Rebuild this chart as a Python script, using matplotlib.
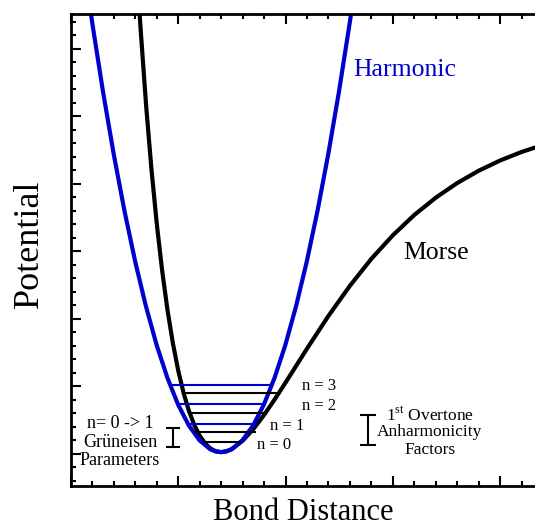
import numpy as np
import matplotlib
matplotlib.use('Agg')
import matplotlib.pyplot as plt
from matplotlib.ticker import MultipleLocator

plt.rcParams['font.family'] = ['Liberation Serif', 'DejaVu Serif']
plt.rcParams['mathtext.fontset'] = 'custom'
plt.rcParams['mathtext.rm'] = 'Liberation Serif'

# Morse potential (bond distance, potential)
morse_x = [0.600, 0.620, 0.650, 0.700, 0.750, 0.800, 0.850, 0.900, 0.950, 1.000, 1.050,
           1.100, 1.150, 1.200, 1.250, 1.300, 1.350, 1.398, 1.450, 1.500, 1.600, 1.700,
           1.800, 1.900, 2.000, 2.200, 2.400, 2.600, 2.800, 3.000, 3.200, 3.400, 3.600,
           3.800, 4.000, 4.200, 4.400, 4.500]
morse_y = [7.530, 7.000, 6.265, 5.161, 4.211, 3.398, 2.706, 2.121, 1.632, 1.226, 0.895,
           0.629, 0.421, 0.264, 0.150, 0.075, 0.034, 0.022, 0.035, 0.069, 0.191, 0.365,
           0.574, 0.807, 1.053, 1.556, 2.041, 2.487, 2.887, 3.235, 3.536, 3.792, 4.009,
           4.191, 4.343, 4.469, 4.574, 4.620]

# harmonic potential
harm_x = [0.148, 0.198, 0.298, 0.398, 0.498, 0.598, 0.698, 0.798, 0.898, 0.998, 1.098,
          1.198, 1.298, 1.348, 1.398, 1.448, 1.498, 1.598, 1.698, 1.798, 1.898, 1.998,
          2.098, 2.198, 2.298, 2.398, 2.498, 2.598, 2.648]
harm_y = [6.923, 6.382, 5.366, 4.438, 3.599, 2.848, 2.185, 1.610, 1.125, 0.727, 0.418,
          0.197, 0.064, 0.033, 0.022, 0.033, 0.064, 0.197, 0.418, 0.727, 1.125, 1.610,
          2.185, 2.848, 3.599, 4.438, 5.366, 6.382, 6.923]

# vibrational levels (height, left end, right end)
harm_lvl = [1.015, 0.733, 0.437]
harm_lvl_l = [0.93, 1.00, 1.09]
harm_lvl_r = [1.87, 1.80, 1.70]
morse_lvl = [0.896, 0.600, 0.319, 0.170]
morse_lvl_l = [1.05, 1.10, 1.15, 1.23]
morse_lvl_r = [1.94, 1.81, 1.72, 1.58]
lvl_names = ['n = 3', 'n = 2', 'n = 1', 'n = 0']
lvl_name_x = [2.153, 2.153, 1.855, 1.733]
lvl_name_y = [1.000, 0.704, 0.407, 0.126]

fig = plt.figure(figsize=(5.35, 5.26), dpi=100)
ax = fig.add_axes([0.1327, 0.076, 0.8878, 0.897])

ax.plot(morse_x, morse_y, color='black', lw=3, solid_joinstyle='round')
ax.plot(harm_x, harm_y, color='#0000cc', lw=3, solid_joinstyle='round')

ax.hlines(harm_lvl, harm_lvl_l, harm_lvl_r, color='#0000cc', lw=1.5)
ax.hlines(morse_lvl, morse_lvl_l, morse_lvl_r, color='black', lw=1.5)

for name, tx, ty in zip(lvl_names, lvl_name_x, lvl_name_y):
    ax.text(tx, ty, name, fontsize=12, ha='left', va='center')

ax.text(2.628, 5.68, 'Harmonic', color='#0000cc', fontsize=18.5, ha='left', va='center')
ax.text(3.094, 2.97, 'Morse', color='black', fontsize=18.5, ha='left', va='center')

# Grüneisen / anharmonicity bars
ax.errorbar([0.951], [0.237], yerr=[0.14], fmt='none', ecolor='black',
            elinewidth=1.5, capsize=4.7, capthick=1.5)
ax.errorbar([2.768], [0.348], yerr=[0.222], fmt='none', ecolor='black',
            elinewidth=1.5, capsize=6, capthick=1.5)

ax.text(0.457, 0.452, 'n= 0 -> 1', fontsize=13, ha='center', va='center')
ax.text(0.457, 0.170, 'Grüneisen', fontsize=13, ha='center', va='center')
ax.text(0.457, -0.096, 'Parameters', fontsize=13, ha='center', va='center')

ax.text(3.346, 0.570, r'1$^{\mathrm{st}}$ Overtone', fontsize=12.5, ha='center', va='center')
ax.text(3.346, 0.319, 'Anharmonicity', fontsize=12.5, ha='center', va='center')
ax.text(3.346, 0.052, 'Factors', fontsize=12.5, ha='center', va='center')

ax.set_xlim(0, 4.427)
ax.set_ylim(-0.48, 6.51)
ax.xaxis.set_major_locator(MultipleLocator(1))
ax.xaxis.set_minor_locator(MultipleLocator(0.2))
ax.yaxis.set_major_locator(MultipleLocator(1))
ax.yaxis.set_minor_locator(MultipleLocator(0.2))
ax.tick_params(which='both', direction='in', top=True, right=False,
               labelbottom=False, labelleft=False, width=1.5)
ax.tick_params(which='major', length=7)
ax.tick_params(which='minor', length=3.5)
for s in ax.spines.values():
    s.set_linewidth(2)

fig.text(0.567, 0.026, 'Bond Distance', fontsize=22, ha='center', va='center')
fig.text(0.056, 0.536, 'Potential', fontsize=26, rotation=90, ha='center', va='center')

fig.savefig('out.png', dpi=100)
